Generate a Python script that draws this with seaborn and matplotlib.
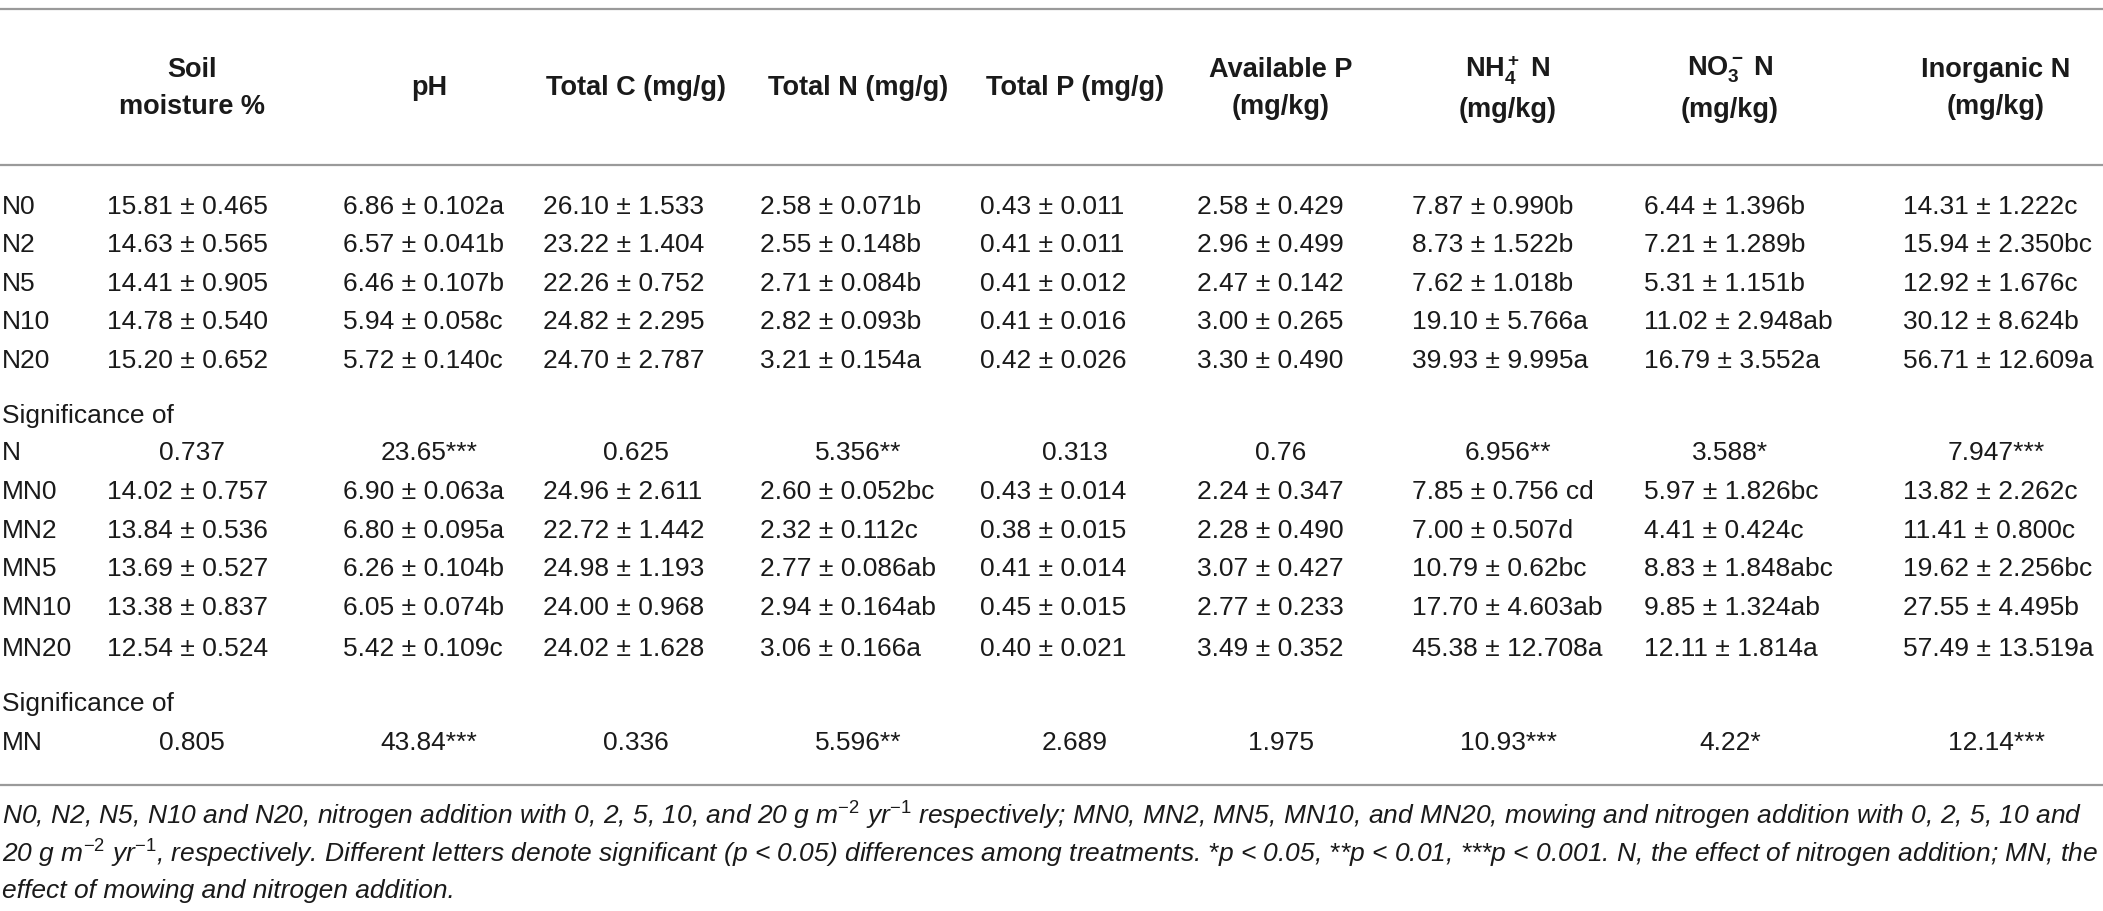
# SOIL PROPERTIES TABLE

# %%
import matplotlib.pyplot as plt
import seaborn as sns

############################
# 1.0. DATA
############################

headers = [
    ['Soil', 'moisture %'],
    ['pH'],
    ['Total C (mg/g)'],
    ['Total N (mg/g)'],
    ['Total P (mg/g)'],
    ['Available P', '(mg/kg)'],
    [r'$\mathbf{NH_4^+}$ N', '(mg/kg)'],
    [r'$\mathbf{NO_3^-}$ N', '(mg/kg)'],
    ['Inorganic N', '(mg/kg)'],
]

# nitrogen addition
labels_n = ['N0', 'N2', 'N5', 'N10', 'N20']
moisture_n = ['15.81 ± 0.465', '14.63 ± 0.565', '14.41 ± 0.905', '14.78 ± 0.540', '15.20 ± 0.652']
ph_n = ['6.86 ± 0.102a', '6.57 ± 0.041b', '6.46 ± 0.107b', '5.94 ± 0.058c', '5.72 ± 0.140c']
total_c_n = ['26.10 ± 1.533', '23.22 ± 1.404', '22.26 ± 0.752', '24.82 ± 2.295', '24.70 ± 2.787']
total_n_n = ['2.58 ± 0.071b', '2.55 ± 0.148b', '2.71 ± 0.084b', '2.82 ± 0.093b', '3.21 ± 0.154a']
total_p_n = ['0.43 ± 0.011', '0.41 ± 0.011', '0.41 ± 0.012', '0.41 ± 0.016', '0.42 ± 0.026']
avail_p_n = ['2.58 ± 0.429', '2.96 ± 0.499', '2.47 ± 0.142', '3.00 ± 0.265', '3.30 ± 0.490']
nh4_n = ['7.87 ± 0.990b', '8.73 ± 1.522b', '7.62 ± 1.018b', '19.10 ± 5.766a', '39.93 ± 9.995a']
no3_n = ['6.44 ± 1.396b', '7.21 ± 1.289b', '5.31 ± 1.151b', '11.02 ± 2.948ab', '16.79 ± 3.552a']
inorg_n = ['14.31 ± 1.222c', '15.94 ± 2.350bc', '12.92 ± 1.676c', '30.12 ± 8.624b', '56.71 ± 12.609a']
signif_n = ['0.737', '23.65***', '0.625', '5.356**', '0.313', '0.76', '6.956**', '3.588*', '7.947***']

# mowing + nitrogen addition
labels_mn = ['MN0', 'MN2', 'MN5', 'MN10', 'MN20']
moisture_mn = ['14.02 ± 0.757', '13.84 ± 0.536', '13.69 ± 0.527', '13.38 ± 0.837', '12.54 ± 0.524']
ph_mn = ['6.90 ± 0.063a', '6.80 ± 0.095a', '6.26 ± 0.104b', '6.05 ± 0.074b', '5.42 ± 0.109c']
total_c_mn = ['24.96 ± 2.611', '22.72 ± 1.442', '24.98 ± 1.193', '24.00 ± 0.968', '24.02 ± 1.628']
total_n_mn = ['2.60 ± 0.052bc', '2.32 ± 0.112c', '2.77 ± 0.086ab', '2.94 ± 0.164ab', '3.06 ± 0.166a']
total_p_mn = ['0.43 ± 0.014', '0.38 ± 0.015', '0.41 ± 0.014', '0.45 ± 0.015', '0.40 ± 0.021']
avail_p_mn = ['2.24 ± 0.347', '2.28 ± 0.490', '3.07 ± 0.427', '2.77 ± 0.233', '3.49 ± 0.352']
nh4_mn = ['7.85 ± 0.756 cd', '7.00 ± 0.507d', '10.79 ± 0.62bc', '17.70 ± 4.603ab', '45.38 ± 12.708a']
no3_mn = ['5.97 ± 1.826bc', '4.41 ± 0.424c', '8.83 ± 1.848abc', '9.85 ± 1.324ab', '12.11 ± 1.814a']
inorg_mn = ['13.82 ± 2.262c', '11.41 ± 0.800c', '19.62 ± 2.256bc', '27.55 ± 4.495b', '57.49 ± 13.519a']
signif_mn = ['0.805', '43.84***', '0.336', '5.596**', '2.689', '1.975', '10.93***', '4.22*', '12.14***']

footnote = [
    r'N0, N2, N5, N10 and N20, nitrogen addition with 0, 2, 5, 10, and 20 g m$^{\mathit{-2}}$ yr$^{\mathit{-1}}$ respectively; '
    r'MN0, MN2, MN5, MN10, and MN20, mowing and nitrogen addition with 0, 2, 5, 10 and',
    r'20 g m$^{\mathit{-2}}$ yr$^{\mathit{-1}}$, respectively. Different letters denote significant (p < 0.05) differences among '
    r'treatments. *p < 0.05, **p < 0.01, ***p < 0.001. N, the effect of nitrogen addition; MN, the',
    'effect of mowing and nitrogen addition.',
]

cols_n = [moisture_n, ph_n, total_c_n, total_n_n, total_p_n, avail_p_n, nh4_n, no3_n, inorg_n]
cols_mn = [moisture_mn, ph_mn, total_c_mn, total_n_mn, total_p_mn, avail_p_mn, nh4_mn, no3_mn, inorg_mn]

############################
# 2.0. LAYOUT (pixels)
############################

W, H = 2103, 911
col_left = [107, 343, 543, 760, 980, 1197, 1412, 1644, 1903]
col_mid = [192, 429, 636, 858, 1075, 1281, 1508, 1730, 1996]
rows_n_y = [207, 245, 284, 322, 361]
rows_mn_y = [492, 531, 569, 608, 649]
sig_n_y = (416, 453)
sig_mn_y = (704, 743)
rules_y = [9, 165, 785]
foot_y = [816, 854, 891]

############################
# 3.0. PLOT
############################

# %%
sns.set_theme(style='white')
plt.rcParams['font.family'] = ['Liberation Sans', 'DejaVu Sans']
plt.rcParams['mathtext.fontset'] = 'custom'
plt.rcParams['mathtext.rm'] = 'Liberation Sans'
plt.rcParams['mathtext.it'] = 'Liberation Sans:italic'
plt.rcParams['mathtext.bf'] = 'Liberation Sans:bold'

fs = 19
fs_head = 19.5
txt = '#1a1a1a'

fig = plt.figure(figsize=(W / 100, H / 100), dpi=100)
ax = fig.add_axes([0, 0, 1, 1])
ax.set_xlim(0, W)
ax.set_ylim(H, 0)
ax.axis('off')

for y in rules_y:
    ax.axhline(y, color='#9a9a9a', lw=1.6)

# header
for x, lines in zip(col_mid, headers):
    if len(lines) == 1:
        ax.text(x, 88, lines[0], ha='center', va='center', fontsize=fs_head,
                fontweight='bold', color=txt)
    else:
        y1, y2 = (70, 110) if lines[0].startswith('$') else (70, 107)
        ax.text(x, y1, lines[0], ha='center', va='center', fontsize=fs_head,
                fontweight='bold', color=txt)
        ax.text(x, y2, lines[1], ha='center', va='center', fontsize=fs_head,
                fontweight='bold', color=txt)

# body
for labels, cols, rows_y, sig, sig_y, sig_lbl in [
        (labels_n, cols_n, rows_n_y, signif_n, sig_n_y, 'N'),
        (labels_mn, cols_mn, rows_mn_y, signif_mn, sig_mn_y, 'MN')]:
    for i, y in enumerate(rows_y):
        ax.text(2, y, labels[i], ha='left', va='center', fontsize=fs, color=txt)
        for x, col in zip(col_left, cols):
            ax.text(x, y, col[i], ha='left', va='center', fontsize=fs, color=txt)
    ax.text(2, sig_y[0], 'Significance of', ha='left', va='center', fontsize=fs, color=txt)
    ax.text(2, sig_y[1], sig_lbl, ha='left', va='center', fontsize=fs, color=txt)
    for x, s in zip(col_mid, sig):
        ax.text(x, sig_y[1], s, ha='center', va='center', fontsize=fs, color=txt)

# footnote
for y, line in zip(foot_y, footnote):
    ax.text(2, y, line, ha='left', va='center', fontsize=19,
            fontstyle='italic', color=txt)

fig.savefig('out.png', dpi=100)
